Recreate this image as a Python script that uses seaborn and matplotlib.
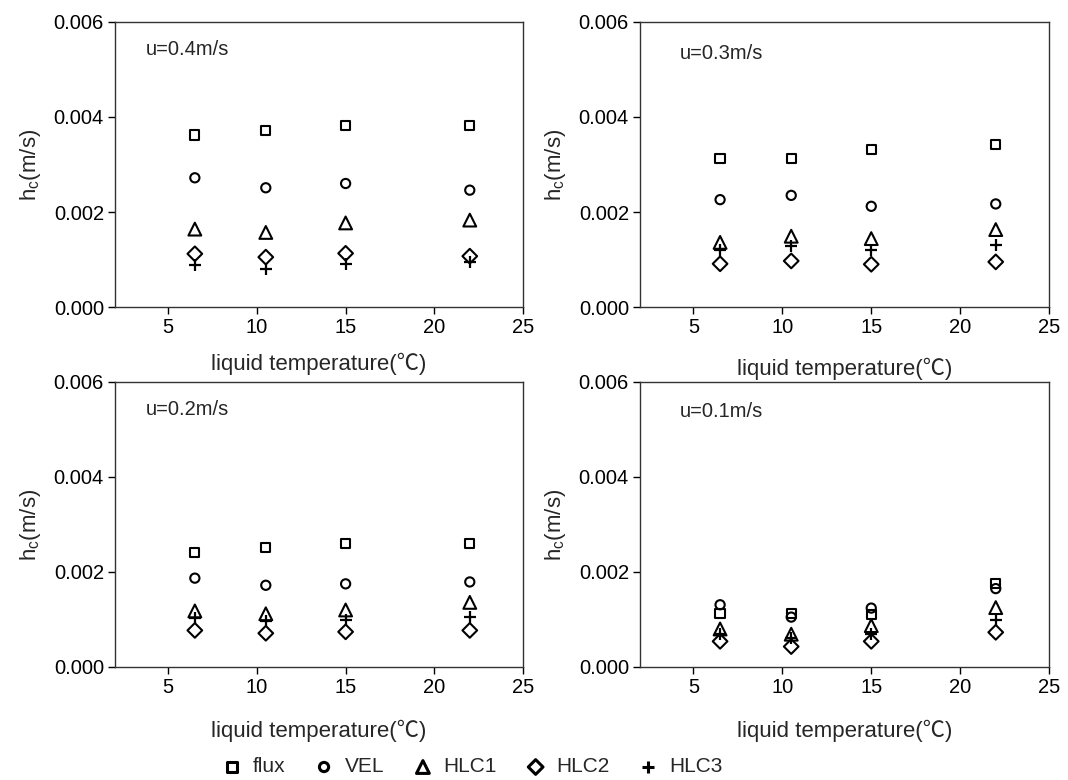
import matplotlib
matplotlib.use("Agg")
import matplotlib.pyplot as plt
import seaborn as sns
import pandas as pd
from matplotlib.ticker import FormatStrFormatter

sns.set_style("ticks")
plt.rcParams["font.family"] = ["Liberation Sans", "Noto Sans CJK SC", "DejaVu Sans"]
plt.rcParams["mathtext.fontset"] = "custom"
plt.rcParams["mathtext.rm"] = "Liberation Sans"
plt.rcParams["mathtext.it"] = "Liberation Sans"

# Liquid temperatures (deg C) at which the mass transfer coefficient was evaluated
temperature = [6.5, 10.5, 15, 22]

velocities = ["u=0.4m/s", "u=0.3m/s", "u=0.2m/s", "u=0.1m/s"]
methods = ["flux", "VEL", "HLC1", "HLC2", "HLC3"]

# h_c (m/s) for each velocity, one list per method
flux_04 = [0.00362, 0.00371, 0.00382, 0.00382]
vel_04 = [0.00272, 0.00251, 0.00260, 0.00246]
hlc1_04 = [0.00164, 0.00157, 0.00177, 0.00183]
hlc2_04 = [0.00112, 0.00105, 0.00113, 0.00107]
hlc3_04 = [0.00088, 0.00081, 0.00091, 0.00095]

flux_03 = [0.00313, 0.00313, 0.00332, 0.00342]
vel_03 = [0.00226, 0.00235, 0.00212, 0.00217]
hlc1_03 = [0.00136, 0.00149, 0.00144, 0.00163]
hlc2_03 = [0.00091, 0.00097, 0.00090, 0.00095]
hlc3_03 = [0.00119, 0.00129, 0.00121, 0.00130]

flux_02 = [0.00241, 0.00252, 0.00260, 0.00260]
vel_02 = [0.00187, 0.00172, 0.00175, 0.00179]
hlc1_02 = [0.00118, 0.00112, 0.00120, 0.00136]
hlc2_02 = [0.00077, 0.00071, 0.00074, 0.00077]
hlc3_02 = [0.00103, 0.00097, 0.00099, 0.00106]

flux_01 = [0.00112, 0.00112, 0.00111, 0.00175]
vel_01 = [0.00131, 0.00105, 0.00124, 0.00165]
hlc1_01 = [0.00080, 0.00069, 0.00087, 0.00125]
hlc2_01 = [0.00054, 0.00043, 0.00054, 0.00073]
hlc3_01 = [0.00069, 0.00062, 0.00069, 0.00098]

series = {
    "u=0.4m/s": [flux_04, vel_04, hlc1_04, hlc2_04, hlc3_04],
    "u=0.3m/s": [flux_03, vel_03, hlc1_03, hlc2_03, hlc3_03],
    "u=0.2m/s": [flux_02, vel_02, hlc1_02, hlc2_02, hlc3_02],
    "u=0.1m/s": [flux_01, vel_01, hlc1_01, hlc2_01, hlc3_01],
}

x_ticks = [5, 10, 15, 20, 25]
y_ticks = [0.000, 0.002, 0.004, 0.006]

# marker shape and area for each method
marker_style = {
    "flux": ("s", 44),
    "VEL": ("o", 44),
    "HLC1": ("^", 85),
    "HLC2": ("D", 56),
    "HLC3": ("+", 80),
}

fig = plt.figure(figsize=(10.68, 7.80), dpi=100)
boxes = [
    (0.1077, 0.6064, 0.382, 0.3654),
    (0.5993, 0.6064, 0.383, 0.3654),
    (0.1077, 0.1449, 0.382, 0.3654),
    (0.5993, 0.1449, 0.383, 0.3654),
]
label_pos = [(0.075, 0.905), (0.098, 0.891), (0.075, 0.905), (0.098, 0.895)]
xlabel_pad = [11, 15, 16, 16]

for i, vel in enumerate(velocities):
    ax = fig.add_axes(boxes[i])
    frame = pd.DataFrame({"T": temperature * len(methods),
                          "h": sum(series[vel], []),
                          "method": [m for m in methods for _ in temperature]})
    for m in methods:
        sub = frame[frame["method"] == m]
        mk, s = marker_style[m]
        if mk == "+":
            sns.scatterplot(data=sub, x="T", y="h", marker=mk, s=s, color="black",
                            linewidth=1.6, ax=ax, label=m)
        else:
            sns.scatterplot(data=sub, x="T", y="h", marker=mk, s=s, facecolor="none",
                            edgecolor="black", linewidth=1.5, ax=ax, label=m)
    if i == 0:
        handles, labels = ax.get_legend_handles_labels()
    ax.get_legend().remove()

    ax.set_xlim(2, 25)
    ax.set_ylim(0, 0.006)
    ax.set_xticks(x_ticks)
    ax.set_yticks(y_ticks)
    ax.yaxis.set_major_formatter(FormatStrFormatter("%.3f"))
    ax.tick_params(direction="out", length=5, width=1, labelsize=14.5,
                   colors="black", pad=3)
    for sp in ax.spines.values():
        sp.set_color("#333333")
        sp.set_linewidth(1.0)
    ax.set_xlabel("liquid temperature(℃)", fontsize=16, labelpad=xlabel_pad[i])
    ax.set_ylabel(r"h$_\mathrm{c}$(m/s)", fontsize=16, labelpad=8)
    ax.text(label_pos[i][0], label_pos[i][1], vel, transform=ax.transAxes,
            fontsize=14.5, va="center", ha="left")

leg = fig.legend(handles, labels, loc="center", bbox_to_anchor=(0.442, 0.0167),
                 ncol=5, frameon=False, fontsize=15, handlelength=1.0,
                 handletextpad=0.5, columnspacing=1.35, borderaxespad=0)
for h in leg.legend_handles:
    h.set_linewidth(2.2)

fig.savefig("out.png", dpi=100)
